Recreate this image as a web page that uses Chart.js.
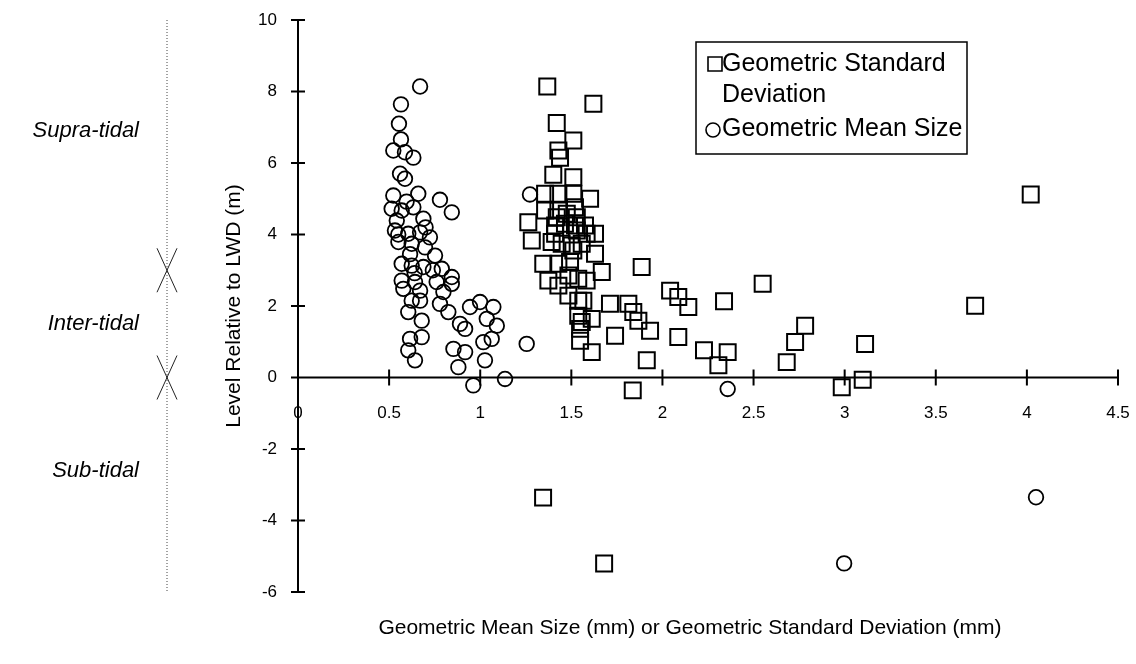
<!DOCTYPE html>
<html>
<head>
<meta charset="utf-8">
<script src="https://cdn.jsdelivr.net/npm/chart.js@4/dist/chart.umd.min.js"></script>
<style>
  html, body { margin: 0; padding: 0; background: #fff; }
  #wrap { width: 1136px; height: 664px; position: relative; }
</style>
</head>
<body>
<div id="wrap"><canvas id="c" width="1136" height="664"></canvas></div>
<script>
// Geometric standard deviation (mm) against level relative to LWD (m)
const sdX = [1.368, 1.621, 1.420, 1.511, 1.429, 1.438, 1.401, 1.511, 1.356, 1.429,
  1.511, 1.603, 1.264, 1.283, 1.356, 1.429, 1.520, 1.530, 1.420, 1.475,
  1.411, 1.465, 1.520, 1.575, 1.630, 1.530, 1.584, 1.411, 1.392, 1.447,
  1.502, 1.557, 1.630, 1.511, 1.346, 1.429, 1.493, 1.667, 1.374, 1.429,
  1.484, 1.538, 1.584, 1.484, 1.538, 1.566, 1.886, 1.712, 1.813, 1.840,
  1.868, 1.932, 2.042, 2.087, 2.142, 1.538, 1.557, 1.548, 1.612, 1.740,
  2.087, 1.548, 1.612, 1.914, 1.837, 2.338, 2.550, 2.228, 2.358, 2.307,
  2.682, 2.728, 2.783, 3.112, 2.984, 3.099, 3.716, 4.021, 1.345, 1.680];
const sdY = [8.14, 7.66, 7.12, 6.63, 6.35, 6.15, 5.67, 5.60, 5.14, 5.14,
  5.14, 5.00, 4.34, 3.83, 4.67, 4.67, 4.76, 4.48, 4.48, 4.58,
  4.25, 4.30, 4.25, 4.25, 4.02, 4.11, 4.02, 4.02, 3.79, 3.74,
  3.69, 3.74, 3.46, 3.55, 3.18, 3.18, 3.23, 2.95, 2.71, 2.57,
  2.85, 2.76, 2.71, 2.29, 2.15, 2.15, 3.09, 2.06, 2.06, 1.83,
  1.59, 1.31, 2.43, 2.25, 1.97, 1.73, 1.55, 1.36, 1.64, 1.17,
  1.13, 1.03, 0.71, 0.48, -0.36, 2.13, 2.62, 0.76, 0.71, 0.34,
  0.43, 0.99, 1.45, 0.94, -0.27, -0.06, 2.01, 5.12, -3.36, -5.20];

// Geometric mean size (mm) against level relative to LWD (m)
const gmX = [0.670, 0.565, 0.554, 0.565, 0.523, 0.587, 0.633, 0.560, 0.587, 0.523,
  0.660, 0.779, 0.844, 0.514, 0.569, 0.633, 0.688, 0.542, 0.532, 0.605,
  0.670, 0.724, 0.551, 0.624, 0.697, 0.752, 0.569, 0.624, 0.688, 0.789,
  0.844, 0.569, 0.642, 0.761, 0.844, 0.578, 0.670, 0.798, 0.624, 0.670,
  0.779, 0.605, 0.825, 0.679, 0.889, 0.917, 0.944, 0.999, 1.072, 1.036,
  1.091, 0.615, 0.679, 1.017, 1.063, 0.605, 0.853, 0.917, 1.255, 0.642,
  1.026, 0.880, 0.962, 1.136, 1.273, 2.358, 2.997, 4.050,
  0.596, 0.615, 0.640, 0.550, 0.700, 0.740];
const gmY = [8.14, 7.64, 7.10, 6.66, 6.35, 6.30, 6.15, 5.70, 5.56, 5.09,
  5.14, 4.97, 4.62, 4.72, 4.67, 4.76, 4.44, 4.39, 4.11, 4.02,
  4.06, 3.92, 3.79, 3.74, 3.64, 3.41, 3.18, 3.13, 3.09, 3.04,
  2.81, 2.71, 2.67, 2.67, 2.62, 2.48, 2.43, 2.39, 2.15, 2.15,
  2.06, 1.83, 1.83, 1.59, 1.50, 1.36, 1.97, 2.11, 1.97, 1.64,
  1.45, 1.08, 1.13, 0.99, 1.08, 0.76, 0.80, 0.71, 0.94, 0.48,
  0.48, 0.29, -0.22, -0.04, 5.12, -0.32, -5.20, -3.35,
  4.92, 3.45, 2.92, 4.00, 4.20, 3.00];

const xTicks = [0, 0.5, 1, 1.5, 2, 2.5, 3, 3.5, 4, 4.5];
const yTicks = [-6, -4, -2, 0, 2, 4, 6, 8, 10];

const seriesNames = ['Geometric Standard Deviation', 'Geometric Mean Size'];
const xTitle = 'Geometric Mean Size (mm) or Geometric Standard Deviation (mm)';
const yTitle = 'Level Relative to LWD (m)';

// Tidal zones shown to the left of the plot, and the levels that divide them
const zoneNames = ['Supra-tidal', 'Inter-tidal', 'Sub-tidal'];
const zoneLevels = [6.9, 1.5, -2.6];
const zoneBounds = [3, 0];

const FONT = "'Liberation Sans', Arial, Helvetica, sans-serif";

function toPoints(xs, ys) {
  return xs.map((x, i) => ({ x: x, y: ys[i] }));
}

// Axis lines through the origin with ticks that cross them
const crossAxes = {
  id: 'crossAxes',
  beforeDatasetsDraw(chart) {
    const { ctx } = chart;
    const xs = chart.scales.x, ys = chart.scales.y;
    const x0 = xs.getPixelForValue(0), y0 = ys.getPixelForValue(0);
    ctx.save();
    ctx.strokeStyle = '#000';
    ctx.lineWidth = 2;
    ctx.beginPath();
    ctx.moveTo(x0, ys.getPixelForValue(yTicks[yTicks.length - 1]));
    ctx.lineTo(x0, ys.getPixelForValue(yTicks[0]));
    ctx.moveTo(xs.getPixelForValue(xTicks[0]), y0);
    ctx.lineTo(xs.getPixelForValue(xTicks[xTicks.length - 1]), y0);
    yTicks.forEach(v => {
      const p = ys.getPixelForValue(v);
      ctx.moveTo(x0 - 7, p); ctx.lineTo(x0 + 7, p);
    });
    xTicks.forEach(v => {
      const p = xs.getPixelForValue(v);
      ctx.moveTo(p, y0 - 8); ctx.lineTo(p, y0 + 8);
    });
    ctx.stroke();
    ctx.restore();
  }
};

// Zone names, the dotted level guide with its crossing marks, and the x-axis title
const annotations = {
  id: 'annotations',
  afterDraw(chart) {
    const { ctx } = chart;
    const ys = chart.scales.y;
    ctx.save();
    ctx.fillStyle = '#000';
    ctx.textBaseline = 'middle';
    ctx.font = 'italic 22px ' + FONT;
    ctx.textAlign = 'right';
    zoneNames.forEach((name, i) => {
      ctx.fillText(name, 139, ys.getPixelForValue(zoneLevels[i]));
    });

    const gx = 167;
    ctx.strokeStyle = '#444';
    ctx.lineWidth = 1;
    ctx.setLineDash([1, 2]);
    ctx.beginPath();
    ctx.moveTo(gx, ys.getPixelForValue(10));
    ctx.lineTo(gx, ys.getPixelForValue(-6));
    ctx.stroke();
    ctx.setLineDash([]);
    ctx.strokeStyle = '#222';
    ctx.beginPath();
    zoneBounds.forEach(v => {
      const p = ys.getPixelForValue(v);
      ctx.moveTo(gx - 10, p - 22); ctx.lineTo(gx + 10, p + 22);
      ctx.moveTo(gx + 10, p - 22); ctx.lineTo(gx - 10, p + 22);
    });
    ctx.stroke();

    ctx.font = '21px ' + FONT;
    ctx.textAlign = 'center';
    ctx.fillText(xTitle, 690, 628);
    ctx.restore();
  }
};

// Boxed legend in the upper right with wrapped labels
const boxLegend = {
  id: 'boxLegend',
  afterDraw(chart) {
    const { ctx } = chart;
    const left = 696, top = 42, width = 271, height = 112;
    ctx.save();
    ctx.fillStyle = '#fff';
    ctx.fillRect(left, top, width, height);
    ctx.strokeStyle = '#000';
    ctx.lineWidth = 1.5;
    ctx.strokeRect(left, top, width, height);
    ctx.font = '25px ' + FONT;
    ctx.fillStyle = '#000';
    ctx.textBaseline = 'middle';
    ctx.textAlign = 'left';
    const textX = left + 26, maxW = width - 30, lineH = 31;
    let y = top + 22;
    chart.data.datasets.forEach(ds => {
      const words = ds.label.split(' ');
      const lines = [];
      let cur = '';
      words.forEach(w => {
        const t = cur ? cur + ' ' + w : w;
        if (ctx.measureText(t).width > maxW && cur) { lines.push(cur); cur = w; } else { cur = t; }
      });
      lines.push(cur);
      ctx.lineWidth = 1.6;
      ctx.strokeStyle = '#000';
      ctx.beginPath();
      if (ds.pointStyle === 'rect') {
        ctx.rect(left + 12, y - 7, 14, 14);
      } else {
        ctx.arc(left + 17, y + 1, 7, 0, Math.PI * 2);
      }
      ctx.stroke();
      lines.forEach((ln, k) => ctx.fillText(ln, textX, y + k * lineH));
      y += lines.length * lineH + 3;
    });
    ctx.restore();
  }
};

new Chart(document.getElementById('c'), {
  type: 'scatter',
  data: {
    datasets: [
      {
        label: seriesNames[0],
        data: toPoints(sdX, sdY),
        pointStyle: 'rect',
        pointRadius: 11.3,
        pointHoverRadius: 11.3,
        borderColor: '#000',
        backgroundColor: 'rgba(0,0,0,0)',
        borderWidth: 2
      },
      {
        label: seriesNames[1],
        data: toPoints(gmX, gmY),
        pointStyle: 'circle',
        pointRadius: 7.3,
        pointHoverRadius: 7.3,
        borderColor: '#000',
        backgroundColor: 'rgba(0,0,0,0)',
        borderWidth: 1.8
      }
    ]
  },
  options: {
    responsive: false,
    animation: false,
    devicePixelRatio: 1,
    layout: { padding: { left: 218, top: 20, right: 18, bottom: 72 } },
    plugins: {
      legend: { display: false },
      tooltip: { enabled: false }
    },
    scales: {
      x: {
        type: 'linear',
        min: xTicks[0],
        max: xTicks[xTicks.length - 1],
        position: { y: 0 },
        afterBuildTicks: s => { s.ticks = xTicks.map(v => ({ value: v })); },
        afterFit: s => { s.paddingLeft = 0; s.paddingRight = 0; },
        grid: { display: false, drawTicks: false },
        border: { display: false },
        ticks: { color: '#000', font: { family: FONT, size: 17 }, padding: 26, maxRotation: 0, autoSkip: false,
          callback: v => String(v) }
      },
      y: {
        type: 'linear',
        min: yTicks[0],
        max: yTicks[yTicks.length - 1],
        position: 'left',
        afterBuildTicks: s => { s.ticks = yTicks.map(v => ({ value: v })); },
        afterFit: s => { s.width = 80; s.paddingTop = 0; s.paddingBottom = 0; },
        grid: { display: false, drawTicks: false },
        border: { display: false },
        title: { display: true, text: yTitle, color: '#000', font: { family: FONT, size: 21 }, padding: { top: 4, bottom: 4 } },
        ticks: { color: '#000', font: { family: FONT, size: 17 }, padding: 21, callback: v => String(v) }
      }
    }
  },
  plugins: [crossAxes, annotations, boxLegend]
});
</script>
</body>
</html>
